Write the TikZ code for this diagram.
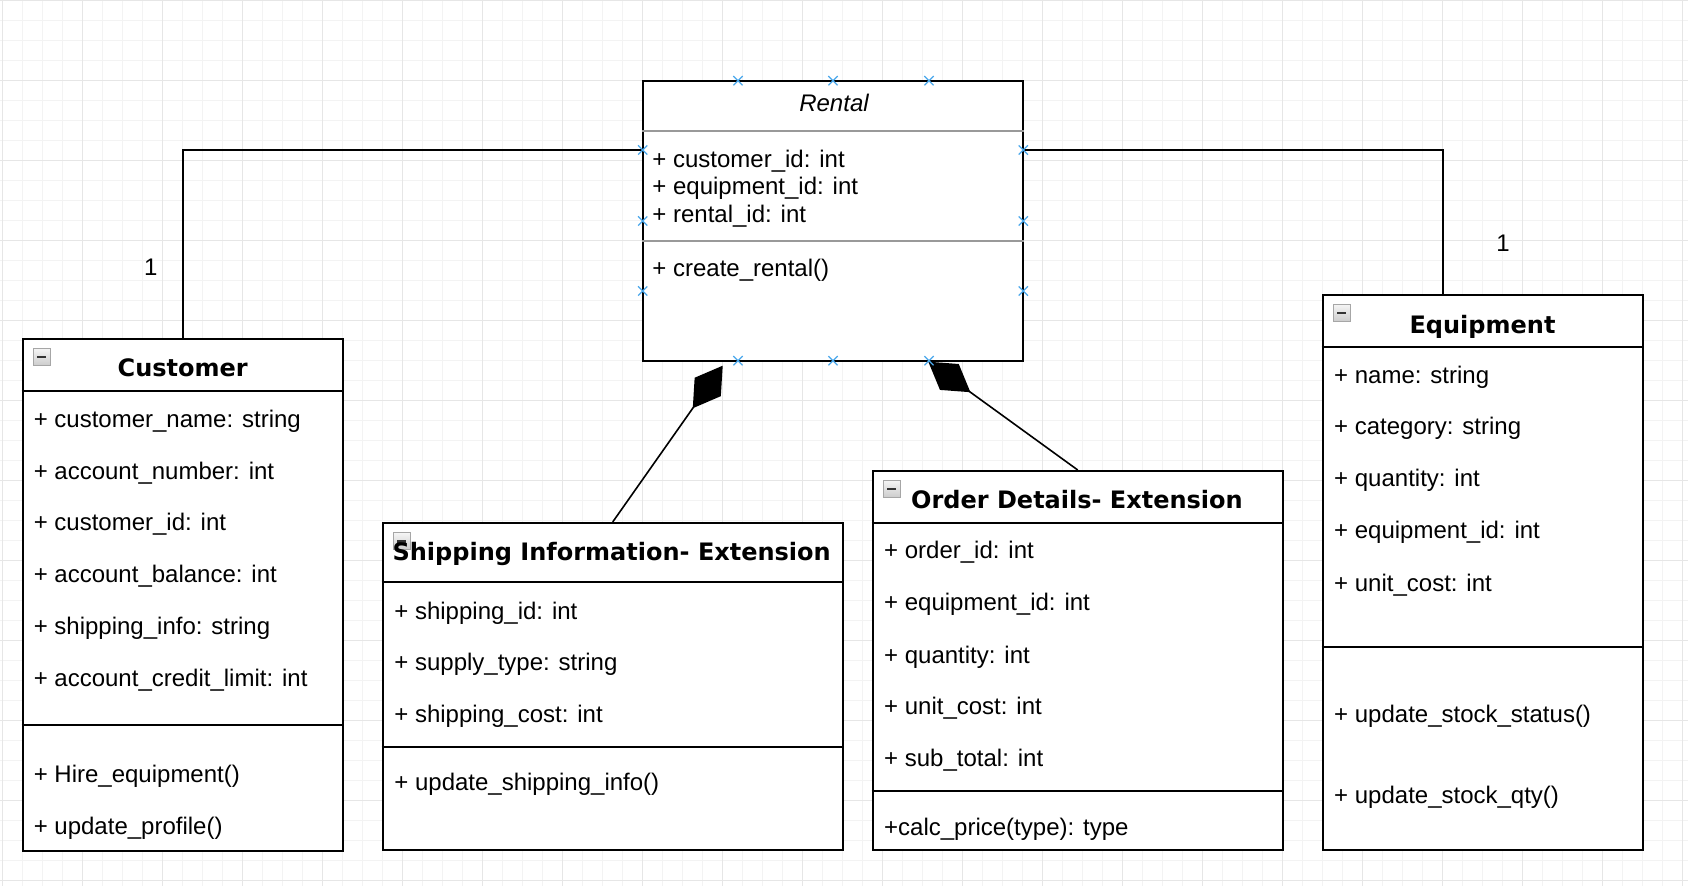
\documentclass[tikz,border=0pt]{standalone}
\usepackage{fontspec}
\setmainfont{Liberation Sans}
\newfontfamily\headfont{DejaVu Sans}
\usepackage{tikz}
\usetikzlibrary{arrows.meta, shapes.misc, calc}
\definecolor{gridminor}{HTML}{F3F3F3}
\definecolor{gridmajor}{HTML}{E6E6E6}
\definecolor{markblue}{HTML}{4AA8EC}
\definecolor{sepgray}{HTML}{999999}

\begin{document}
\begin{tikzpicture}[
    x=0.5pt, y=-0.5pt,
    every node/.style={font=\fontsize{12}{14}\selectfont},
    classbox/.style={rectangle, draw=black, line width=1pt, fill=white, inner sep=0pt},
    classtitle/.style={anchor=base, inner sep=0pt, font=\headfont\bfseries\fontsize{12}{14}\selectfont},
    member/.style={anchor=base west, inner sep=0pt},
    collapse/.style={rectangle, draw=gray!70, line width=0.4pt, top color=gray!8, bottom color=gray!40, minimum size=8.5pt, inner sep=0pt, anchor=north west,
        path picture={\draw[line width=1.2pt, black!80] ([xshift=2pt]path picture bounding box.west) -- ([xshift=-2pt]path picture bounding box.east);}},
    cpoint/.style={cross out, draw=markblue, line width=0.6pt, minimum size=4pt, inner sep=0pt},
    assoc/.style={draw=black, line width=0.8pt},
    comp/.style={draw=black, line width=0.8pt, -{Diamond[length=26pt, width=16pt]}},
    mult/.style={inner sep=0pt}
]
    \useasboundingbox (0,0) rectangle (1688,886);
    \fill[white] (0,0) rectangle (1688,886);
    % grid
    \foreach \gx in {0,...,84} \draw[gridminor, line width=0.5pt] (2.7+20*\gx,0) -- (2.7+20*\gx,886);
    \foreach \gy in {0,...,44} \draw[gridminor, line width=0.5pt] (0,0.7+20*\gy) -- (1688,0.7+20*\gy);
    \foreach \gx in {0,...,21} \draw[gridmajor, line width=0.6pt] (2.7+80*\gx,0) -- (2.7+80*\gx,886);
    \foreach \gy in {0,...,11} \draw[gridmajor, line width=0.6pt] (0,0.7+80*\gy) -- (1688,0.7+80*\gy);

    \node[classbox, minimum width=160pt, minimum height=255.85pt] (customer) at (182.7,594.85) {};
    \node[classbox, minimum width=190.3pt, minimum height=140pt] (rental) at (833,220.7) {};
    \node[classbox, minimum width=230pt, minimum height=163.7pt] (shipping) at (612.7,686.7) {};
    \node[classbox, minimum width=205pt, minimum height=189.7pt] (order) at (1077.7,660.7) {};
    \node[classbox, minimum width=160pt, minimum height=277.85pt] (equipment) at (1482.7,572.55) {};

    \draw[line width=1pt] (customer.west |- 0,390.7) -- (customer.east |- 0,390.7);
    \draw[line width=1pt] (customer.west |- 0,724.7) -- (customer.east |- 0,724.7);
    \draw[sepgray, line width=1pt] (rental.west |- 0,130.7) -- (rental.east |- 0,130.7);
    \draw[sepgray, line width=1pt] (rental.west |- 0,241) -- (rental.east |- 0,241);
    \draw[line width=1pt] (shipping.west |- 0,582.3) -- (shipping.east |- 0,582.3);
    \draw[line width=1pt] (shipping.west |- 0,747) -- (shipping.east |- 0,747);
    \draw[line width=1pt] (order.west |- 0,522.7) -- (order.east |- 0,522.7);
    \draw[line width=1pt] (order.west |- 0,791.2) -- (order.east |- 0,791.2);
    \draw[line width=1pt] (equipment.west |- 0,346.7) -- (equipment.east |- 0,346.7);
    \draw[line width=1pt] (equipment.west |- 0,647) -- (equipment.east |- 0,647);

    \node[collapse] (custC) at (32.7,348) {};
    \node[collapse] (shipC) at (392.7,532.5) {};
    \node[collapse] (orderC) at (882.7,480) {};
    \node[collapse] (equipC) at (1332.7,304) {};

    \node[classtitle] (custT) at (182.7,377) {Customer};
    \node[anchor=base, inner sep=0pt, font=\itshape\fontsize{12}{14}\selectfont] (rentalT) at (834,111.7) {Rental};
    \node[classtitle] (shipT) at (611.7,561) {Shipping Information- Extension};
    \node[classtitle] (orderT) at (1077,508.5) {Order Details- Extension};
    \node[classtitle] (equipT) at (1482.5,333.5) {Equipment};

    \node[member] (cu1) at (33.4,427.5) {+ customer\_name: string};
    \node[member] (cu2) at (33.4,479.2) {+ account\_number: int};
    \node[member] (cu3) at (33.4,530.9) {+ customer\_id: int};
    \node[member] (cu4) at (33.4,582.6) {+ account\_balance: int};
    \node[member] (cu5) at (33.4,634.3) {+ shipping\_info: string};
    \node[member] (cu6) at (33.4,686.9) {+ account\_credit\_limit: int};
    \node[member] (cu7) at (33.4,782.7) {+ Hire\_equipment()};
    \node[member] (cu8) at (33.4,834.4) {+ update\_profile()};

    \node[member] (re1) at (652,167.2) {+ customer\_id: int};
    \node[member] (re2) at (652,194.8) {+ equipment\_id: int};
    \node[member] (re3) at (652,222.8) {+ rental\_id: int};
    \node[member] (re4) at (652,276.5) {+ create\_rental()};

    \node[member] (sh1) at (394,619.1) {+ shipping\_id: int};
    \node[member] (sh2) at (394,670.7) {+ supply\_type: string};
    \node[member] (sh3) at (394,722.4) {+ shipping\_cost: int};
    \node[member] (sh4) at (394,790.2) {+ update\_shipping\_info()};

    \node[member] (od1) at (883.8,558.7) {+ order\_id: int};
    \node[member] (od2) at (883.8,610.5) {+ equipment\_id: int};
    \node[member] (od3) at (883.8,663.2) {+ quantity: int};
    \node[member] (od4) at (883.8,714.9) {+ unit\_cost: int};
    \node[member] (od5) at (883.8,766.6) {+ sub\_total: int};
    \node[member] (od6) at (883.8,835.3) {+calc\_price(type): type};

    \node[member] (eq1) at (1333.8,383.3) {+ name: string};
    \node[member] (eq2) at (1333.8,435) {+ category: string};
    \node[member] (eq3) at (1333.8,486.7) {+ quantity: int};
    \node[member] (eq4) at (1333.8,538.3) {+ equipment\_id: int};
    \node[member] (eq5) at (1333.8,591.1) {+ unit\_cost: int};
    \node[member] (eq6) at (1333.8,722.4) {+ update\_stock\_status()};
    \node[member] (eq7) at (1333.8,803.2) {+ update\_stock\_qty()};

    \draw[assoc] (rental.west |- 0,150) -| (customer.north);
    \draw[assoc] (rental.east |- 0,150) -| ([xshift=-20pt]equipment.north);
    \draw[comp] (shipping.north) -- ([xshift=-55.15pt, yshift=-2pt]rental.south);
    \draw[comp] (order.north) -- ([xshift=47.65pt]rental.south);

    \node[mult] (custM) at (150.7,267) {1};
    \node[mult] (equipM) at (1503,243) {1};

    \foreach \mx in {738,833,929} {
        \node[cpoint] (top\mx) at (\mx,80.7) {};
        \node[cpoint] (bot\mx) at (\mx,360.7) {};
    }
    \foreach \my in {150,221,291} {
        \node[cpoint] (lft\my) at (642.7,\my) {};
        \node[cpoint] (rgt\my) at (1023.3,\my) {};
    }
\end{tikzpicture}
\end{document}
